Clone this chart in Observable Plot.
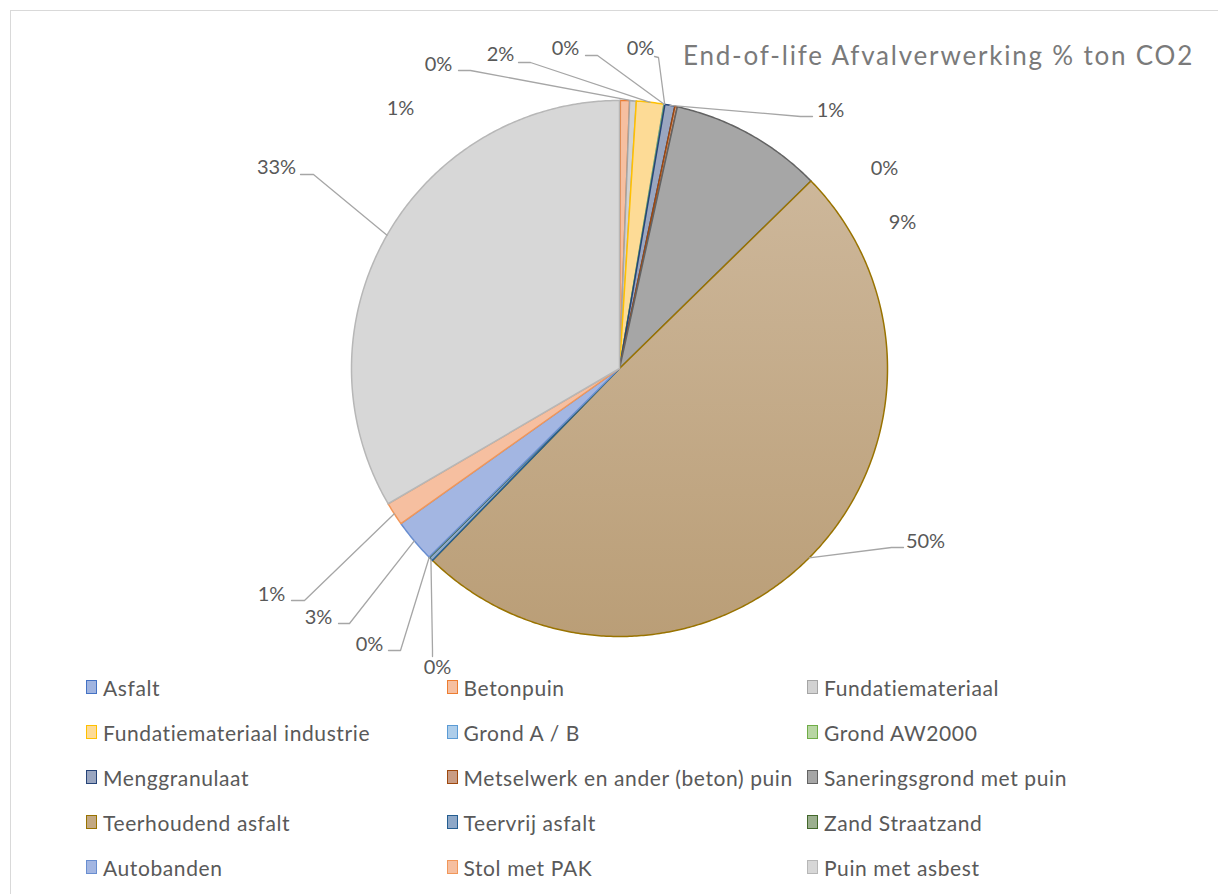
<!DOCTYPE html>
<html><head><meta charset="utf-8">
<script src="https://cdn.jsdelivr.net/npm/d3@7"></script>
<script src="https://cdn.jsdelivr.net/npm/@observablehq/plot@0.6"></script>
<style>
body{margin:0;background:#fff;font-family:Lato,"Open Sans",sans-serif;}
#frame{position:absolute;left:10px;top:10px;width:1230px;height:900px;border:1px solid #d9d9d9;box-sizing:border-box}
#chart{position:absolute;left:0;top:0}
#title{position:absolute;left:683px;top:38px;font-size:26px;line-height:34px;letter-spacing:1.8px;color:#7a7a7a;white-space:nowrap}
.item{position:absolute;display:flex;align-items:center;height:24px;font-size:21px;letter-spacing:0.6px;color:#595959;white-space:nowrap}
.sw{width:9px;height:12px;border:1.5px solid;margin-right:6px}
</style></head><body>
<div id="frame"></div>
<div id="chart"></div>
<div id="title">End-of-life Afvalverwerking % ton CO2</div>
<div id="legend"></div>
<script>
// ---- data ----
const categories = ["Asfalt","Betonpuin","Fundatiemateriaal","Fundatiemateriaal industrie","Grond A / B","Grond AW2000","Menggranulaat","Metselwerk en ander (beton) puin","Saneringsgrond met puin","Teerhoudend asfalt","Teervrij asfalt","Zand Straatzand","Autobanden","Stol met PAK","Puin met asbest"];
const values = [0.05, 0.55, 0.4, 1.65, 0.03, 0.03, 0.6, 0.15, 9.2, 49.6, 0.25, 0.03, 2.6, 1.4, 33.4];

// ---- styles ----
const strokeColors = ["#4472C4","#ED7D31","#A5A5A5","#FFC000","#5B9BD5","#70AD47","#264478","#9E480E","#636363","#997300","#255E91","#43682B","#698ED0","#F1975A","#B7B7B7"];
const fillColors = ["#A0B4E0","#F6BFA0","#D2D2D2","#FDDB96","#ADCDEA","#B8D6A3","#9AA6C0","#C99C84","#A6A6A6","url(#teerGrad)","#8EA8C8","#9BAF8E","#A3B6E2","#F6BFA0","#D7D7D7"];
const swatchColors = ["#A0B4E0","#F6BFA0","#D2D2D2","#FDDB96","#ADCDEA","#B8D6A3","#9AA6C0","#C99C84","#A6A6A6","#C3A983","#8EA8C8","#9BAF8E","#A3B6E2","#F6BFA0","#D7D7D7"];

// ---- layout (pixels) ----
const W = 1218, H = 680, CX = 619, CY = 368, R = 268;
const labelAt = [null,[400,108],[438,64],[500,54],[565,48],[640,48],[830,110],[884,168],[902,222],[925,541],[437,667],[369,644],[318,617],[271,594],[276,167]];
const leaderAt = [null,null,[[458,70],[470,70]],[[518,62],[530,62]],[[585,55],[597,55]],[[654,56],[658,57]],[[812,116],[800,116]],null,null,[[903,547],[891,547]],[[432,656],[432,650]],[[388,650],[400,650]],[[338,623],[349,623]],[[291,600],[304,600]],[[300,174],[313,174]]];

const X = px => (px - CX) / R;
const Y = py => (CY - py) / R;
const total = d3.sum(values);
const fmt = d3.format(".0%");

const arcs = d3.pie().sort(null).value(d => d)(values);
const polar = a => [Math.sin(a), Math.cos(a)];

const sliceMarks = arcs.map((p, i) => {
  const pts = [[0, 0]];
  const n = Math.max(2, Math.ceil((p.endAngle - p.startAngle) / (Math.PI / 360)));
  for (let k = 0; k <= n; k++) pts.push(polar(p.startAngle + (p.endAngle - p.startAngle) * k / n));
  pts.push([0, 0]);
  return Plot.line(pts, {x: d => d[0], y: d => d[1], fill: fillColors[i], stroke: strokeColors[i], strokeWidth: 1.5, strokeLinejoin: "round"});
});

const labels = [];
const leaders = [];
arcs.forEach((p, i) => {
  if (!labelAt[i]) return;
  labels.push({x: X(labelAt[i][0]), y: Y(labelAt[i][1]), text: fmt(values[i] / total)});
  if (leaderAt[i]) {
    const mid = (p.startAngle + p.endAngle) / 2;
    const e = polar(mid);
    leaderAt[i].forEach(q => leaders.push({id: i, x: X(q[0]), y: Y(q[1])}));
    leaders.push({id: i, x: e[0], y: e[1]});
  }
});

const chart = Plot.plot({
  width: W, height: H,
  margin: 0,
  x: {domain: [X(0), X(W)], axis: null},
  y: {domain: [Y(H), Y(0)], axis: null},
  style: {fontFamily: "Lato, 'Open Sans', sans-serif", background: "transparent"},
  marks: [
    ...sliceMarks,
    Plot.line(leaders, {x: "x", y: "y", z: "id", stroke: "#a6a6a6", strokeWidth: 1.3}),
    Plot.text(labels, {x: "x", y: "y", text: "text", fontSize: 20, fill: "#595959", textAnchor: "middle", lineAnchor: "middle"})
  ]
});
const ns = "http://www.w3.org/2000/svg";
const defs = document.createElementNS(ns, "defs");
defs.innerHTML = '<linearGradient id="teerGrad" x1="0" y1="0" x2="0" y2="1"><stop offset="0" stop-color="#CDB79A"/><stop offset="1" stop-color="#BA9E77"/></linearGradient>';
chart.insertBefore(defs, chart.firstChild);
document.getElementById("chart").appendChild(chart);

// ---- legend ----
const legend = document.getElementById("legend");
categories.forEach((c, i) => {
  const col = i % 3, row = Math.floor(i / 3);
  const it = document.createElement("div");
  it.className = "item";
  it.style.left = (86 + col * 360.5) + "px";
  it.style.top = (687 + row * 45 - 12) + "px";
  const sw = document.createElement("span");
  sw.className = "sw";
  sw.style.background = swatchColors[i];
  sw.style.borderColor = strokeColors[i];
  it.appendChild(sw);
  it.appendChild(document.createTextNode(c));
  legend.appendChild(it);
});
</script>
</body></html>
